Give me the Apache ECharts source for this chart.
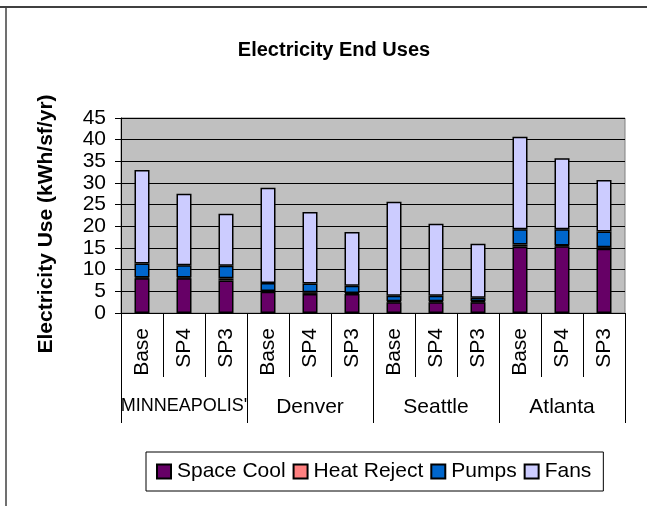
<!DOCTYPE html>
<html>
<head>
<meta charset="utf-8">
<script src="https://cdn.jsdelivr.net/npm/echarts@6/dist/echarts.min.js"></script>
<style>
  html, body { margin: 0; padding: 0; background: #fff; }
  #main { width: 647px; height: 506px; }
</style>
</head>
<body>
<div id="main"></div>
<script>
// scenarios per city, cities in order
var runs = ['Base', 'SP4', 'SP3', 'Base', 'SP4', 'SP3', 'Base', 'SP4', 'SP3', 'Base', 'SP4', 'SP3']
var cities = ["MINNEAPOLIS'", 'Denver', 'Seattle', 'Atlanta']
var yTicks = [0, 5, 10, 15, 20, 25, 30, 35, 40, 45]

// kWh/sf/yr
var spaceCool = [8.0, 8.0, 7.5, 4.9, 4.4, 4.4, 2.5, 2.5, 2.5, 15.3, 15.4, 14.8]
var heatReject = [0.2, 0.2, 0.5, 0.2, 0.4, 0.2, 0.2, 0.2, 0.2, 0.5, 0.2, 0.4]
var pumps = [3.2, 2.8, 2.9, 1.8, 2.0, 1.7, 1.3, 1.3, 0.8, 3.5, 3.7, 3.6]
var fans = [21.6, 16.5, 12.0, 22.0, 16.5, 12.4, 21.7, 16.6, 12.5, 21.4, 16.4, 11.9]

var font = 'Liberation Sans, Arial, sans-serif'

function bar(name, data, color) {
  return {
    name: name,
    type: 'bar',
    stack: 'all',
    barWidth: 15,
    data: data,
    itemStyle: { color: color, borderColor: '#000', borderWidth: 1.5 }
  }
}

var chart = echarts.init(document.getElementById('main'))
chart.setOption({
  animation: false,
  backgroundColor: '#fff',
  textStyle: { fontFamily: font, color: '#000' },
  title: {
    text: 'Electricity End Uses',
    left: 329,
    textAlign: 'center',
    top: 35,
    textStyle: { fontFamily: font, fontSize: 20, fontWeight: 'bold', color: '#000' }
  },
  graphic: [
    { type: 'line', shape: { x1: 0, y1: 7, x2: 647, y2: 7 }, style: { stroke: '#404040', lineWidth: 2 } },
    { type: 'line', shape: { x1: 6, y1: 7, x2: 6, y2: 506 }, style: { stroke: '#404040', lineWidth: 1.5 } }
  ],
  legend: {
    left: 146,
    top: 452,
    itemWidth: 14,
    itemHeight: 14,
    itemGap: 7,
    padding: [9, 12, 9, 10],
    borderColor: '#000',
    borderWidth: 1,
    backgroundColor: '#fff',
    icon: 'rect',
    textStyle: { fontFamily: font, fontSize: 21, color: '#000', padding: [0, 0, 0, 1] },
    data: ['Space Cool', 'Heat Reject', 'Pumps', 'Fans']
  },
  grid: {
    left: 121,
    right: 22,
    top: 118,
    bottom: 193,
    show: true,
    backgroundColor: '#c0c0c0',
    borderColor: '#808080',
    borderWidth: 1
  },
  xAxis: [
    {
      type: 'category',
      data: runs,
      axisLine: { show: true, lineStyle: { color: '#000', width: 1 } },
      axisTick: { show: true, interval: 0, length: 64, lineStyle: { color: '#000' } },
      axisLabel: { interval: 0, rotate: 90, margin: 15, fontSize: 21, color: '#000', fontFamily: font }
    },
    {
      type: 'category',
      data: cities,
      position: 'bottom',
      axisLine: { show: false },
      axisTick: { show: true, interval: 0, length: 110, lineStyle: { color: '#000' } },
      axisLabel: {
        interval: 0,
        margin: 84,
        fontSize: 21,
        color: '#000',
        fontFamily: font,
        formatter: function (v) {
          return v.length > 10 ? '{n|' + v + '}' : v
        },
        rich: { n: { fontSize: 18, fontFamily: font, color: '#000' } }
      }
    }
  ],
  yAxis: {
    type: 'value',
    min: yTicks[0],
    max: yTicks[yTicks.length - 1],
    interval: 5,
    name: 'Electricity Use (kWh/sf/yr)',
    nameLocation: 'middle',
    nameGap: 64,
    nameTextStyle: { fontFamily: font, fontSize: 21, fontWeight: 'bold', color: '#000', padding: [0, 17, 0, 0] },
    axisLine: { show: true, lineStyle: { color: '#000' } },
    axisTick: { show: true, length: 6, inside: false, lineStyle: { color: '#000' } },
    axisLabel: { margin: 15, fontSize: 21, color: '#000', fontFamily: font },
    splitLine: { lineStyle: { color: '#000', width: 1 } }
  },
  series: [
    bar('Space Cool', spaceCool, '#660066'),
    bar('Heat Reject', heatReject, '#ff8080'),
    bar('Pumps', pumps, '#0066cc'),
    bar('Fans', fans, '#ccccff')
  ]
})
</script>
</body>
</html>
